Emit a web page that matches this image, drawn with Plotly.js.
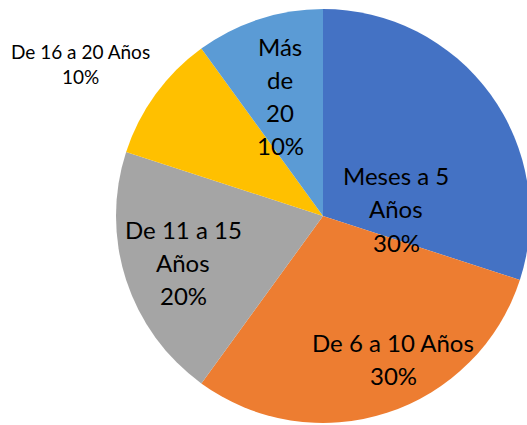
<!DOCTYPE html>
<html>
<head>
<meta charset="utf-8">
<script src="https://cdn.plot.ly/plotly-3.0.1.min.js"></script>
<style>html,body{margin:0;padding:0;overflow:hidden;background:#fff;width:527px;height:425px;}</style>
</head>
<body>
<div id="chart" style="width:540px;height:425px;"></div>
<script>
const categories = ["Meses a 5 Años", "De 6 a 10 Años", "De 11 a 15 Años", "De 16 a 20 Años", "Más de 20"];
const values = [30, 30, 20, 10, 10];
const colors = ["#4472C4", "#ED7D31", "#A5A5A5", "#FFC000", "#5B9BD5"];
// label lines as wrapped in the reference
const labelLines = [
  ["Meses a 5", "Años", "30%"],
  ["De 6 a 10 Años", "30%"],
  ["De 11 a 15", "Años", "20%"],
  ["De 16 a 20 Años", "10%"],
  ["Más", "de", "20", "10%"]
];
// label block centers (pixels) and styles
const labelPos = [[396, 209], [393, 359], [183, 262], [80, 64], [280, 96]];
const labelSize = [24, 24, 24, 19, 24];
const labelGap = [33, 33, 33, 25, 33];

const W = 540, H = 425;
const annotations = [];
labelLines.forEach((lines, i) => {
  const n = lines.length;
  lines.forEach((t, j) => {
    const py = labelPos[i][1] + (j - (n - 1) / 2) * labelGap[i];
    annotations.push({
      text: t, xref: "paper", yref: "paper",
      x: labelPos[i][0] / W, y: 1 - py / H,
      xanchor: "center", yanchor: "middle", showarrow: false,
      font: {family: "Lato, 'Open Sans', sans-serif", size: labelSize[i], color: "#000"}
    });
  });
});

Plotly.newPlot("chart", [{
  type: "pie",
  labels: categories,
  values: values,
  sort: false,
  direction: "clockwise",
  rotation: 0,
  marker: {colors: colors, line: {width: 0}},
  textinfo: "none",
  hoverinfo: "label+percent",
  domain: {x: [116 / W, 530 / W], y: [2 / H, 1 - 9 / H]}
}], {
  width: W, height: H,
  margin: {l: 0, r: 0, t: 0, b: 0},
  showlegend: false,
  paper_bgcolor: "#fff",
  annotations: annotations
}, {displayModeBar: false, staticPlot: true});
</script>
</body>
</html>
